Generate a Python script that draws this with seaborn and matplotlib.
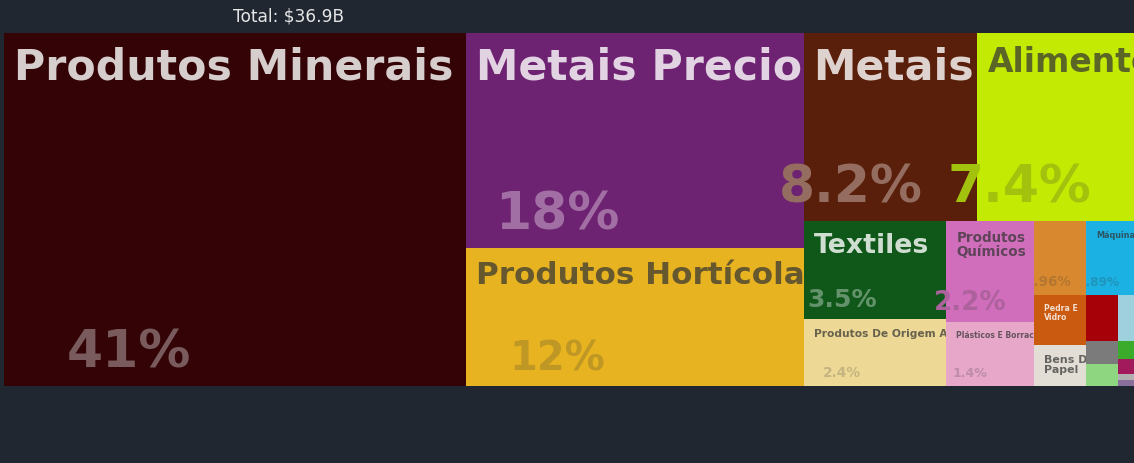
import textwrap
import matplotlib
matplotlib.use("Agg")
import matplotlib.pyplot as plt
from matplotlib.patches import Rectangle
from matplotlib.colors import to_rgb
import seaborn as sns

# ---------------- data ----------------
categories = [
    "Produtos Minerais", "Metais Preciosos", "Produtos Hortícolas", "Metais",
    "Alimentos", "Textiles", "Produtos De Origem Animal", "Produtos Químicos",
    "Plásticos E Borrachas", "Peles De Animais", "Máquinas", "Pedra E Vidro",
    "Bens De Papel", "Transportes", "Instrumentos", "Diversos",
    "Produtos De Madeira", "Subprodutos Animais E Vegetais",
    "Calçados E Chapelaria", "Armas", "Artes E Antiguidades",
]
values_bn = [
    15.09, 6.72, 4.30, 3.03,
    2.73, 1.29, 0.886, 0.812,
    0.517, 0.354, 0.328, 0.244,
    0.196, 0.137, 0.070, 0.066,
    0.066, 0.026,
    0.022, 0.009, 0.009,
]
colors = [
    "#330306", "#6e2272", "#e7b320", "#5a1f0b",
    "#c3ea03", "#10581a", "#edd995", "#d06ebb",
    "#e6a7c9", "#d8892f", "#1bb1e3", "#c95a10",
    "#e2ddd5", "#a60009", "#9fd0de", "#7b7b7b",
    "#8fd680", "#3aab2b",
    "#a21a5c", "#b0b0b0", "#8a6f9a",
]

# ---------------- style ----------------
BG = "#212731"
W, H = 1134, 463
DOMAIN = (4, 33, 1134, 386)          # treemap area in pixels (x0, y0, x1, y1)
PHI = (1 + 5 ** 0.5) / 2
name_font_px = {
    "Produtos Minerais": 42.6, "Metais Preciosos": 42.6, "Metais": 42.6,
    "Alimentos": 33, "Produtos Hortícolas": 31, "Textiles": 26.8,
    "Produtos Químicos": 13.5, "Produtos De Origem Animal": 10.6,
    "Plásticos E Borrachas": 7.6, "Máquinas": 8, "Pedra E Vidro": 7.8,
    "Bens De Papel": 11,
}
name_wrap = {"Produtos Químicos": 9, "Pedra E Vidro": 8, "Bens De Papel": 8}


def squarify(vals, x0, y0, x1, y1, ratio=PHI):
    rects = [None] * len(vals)
    value = float(sum(vals))
    i0, n = 0, len(vals)
    while i0 < n:
        dx, dy = x1 - x0, y1 - y0
        s = vals[i0]
        mn = mx = s
        alpha = max(dy / dx, dx / dy) / (value * ratio)
        beta = s * s * alpha
        min_ratio = max(mx / beta, beta / mn)
        i1 = i0 + 1
        while i1 < n:
            v = vals[i1]
            s2 = s + v
            mn2, mx2 = min(mn, v), max(mx, v)
            beta = s2 * s2 * alpha
            r = max(mx2 / beta, beta / mn2)
            if r > min_ratio:
                break
            s, mn, mx, min_ratio = s2, mn2, mx2, r
            i1 += 1
        if dx < dy:
            h = dy * s / value
            xx = x0
            for k in range(i0, i1):
                w = dx * vals[k] / s
                rects[k] = (xx, y0, w, h)
                xx += w
            y0 += h
        else:
            w = dx * s / value
            yy = y0
            for k in range(i0, i1):
                h = dy * vals[k] / s
                rects[k] = (x0, yy, w, h)
                yy += h
            x0 += w
        value -= s
        i0 = i1
    return rects


def blend(fg, bg, a):
    f, b = to_rgb(fg), to_rgb(bg)
    return tuple(a * fi + (1 - a) * bi for fi, bi in zip(f, b))


def px2pt(px):
    return px * 72.0 / 100.0


sns.set_theme(style="white")
plt.rcParams["font.family"] = ["DejaVu Sans"]

fig = plt.figure(figsize=(W / 100, H / 100), dpi=100, facecolor=BG)
ax = fig.add_axes([0, 0, 1, 1])
ax.set_facecolor(BG)
ax.set_xlim(0, W)
ax.set_ylim(H, 0)
ax.axis("off")

total = sum(values_bn)
rects = squarify(values_bn, *DOMAIN)

for i, (cat, val, col, (x, y, w, h)) in enumerate(zip(categories, values_bn, colors, rects)):
    patch = Rectangle((x, y), w, h, facecolor=col, edgecolor="none", zorder=2 * i)
    ax.add_patch(patch)
    r, g, b = to_rgb(col)
    lum = 255 * (0.299 * r + 0.587 * g + 0.114 * b)
    dark_bg = lum < 130
    fg = "#ffffff" if dark_bg else "#333333"
    name_col = blend(fg, col, 0.80 if dark_bg else 0.72)
    pct_col = blend(fg, col, 0.35 if dark_bg else 0.22)

    fs = name_font_px.get(cat)
    if fs and w >= 40 and h >= 35:
        label = textwrap.fill(cat, name_wrap[cat]) if cat in name_wrap else cat
        ax.text(x + 10, y + min(14, 8 + 0.15 * fs), label, fontsize=px2pt(fs),
                fontweight="bold", color=name_col, ha="left", va="top",
                linespacing=0.95, zorder=2 * i + 1)
    if w >= 40 and h >= 60:
        pct = val / total * 100
        pfs = max(8, min(52, 0.37 * h - 11, 0.367 * w - 5.6))
        t = ax.text(x + 0.27 * w, y + h - (6 + 0.24 * pfs), f"{pct:.2g}%",
                    fontsize=px2pt(pfs), fontweight="bold", color=pct_col,
                    ha="center", va="baseline", zorder=2 * i + 1)
        if w < 60:
            t.set_clip_on(True)
            t.set_clip_path(patch)

fig.text(289 / W, 1 - 17 / H, f"Total: ${total:.1f}B", color="#e6e6e6",
         fontsize=px2pt(17), ha="center", va="center")

fig.savefig("out.png", dpi=100, facecolor=BG)
